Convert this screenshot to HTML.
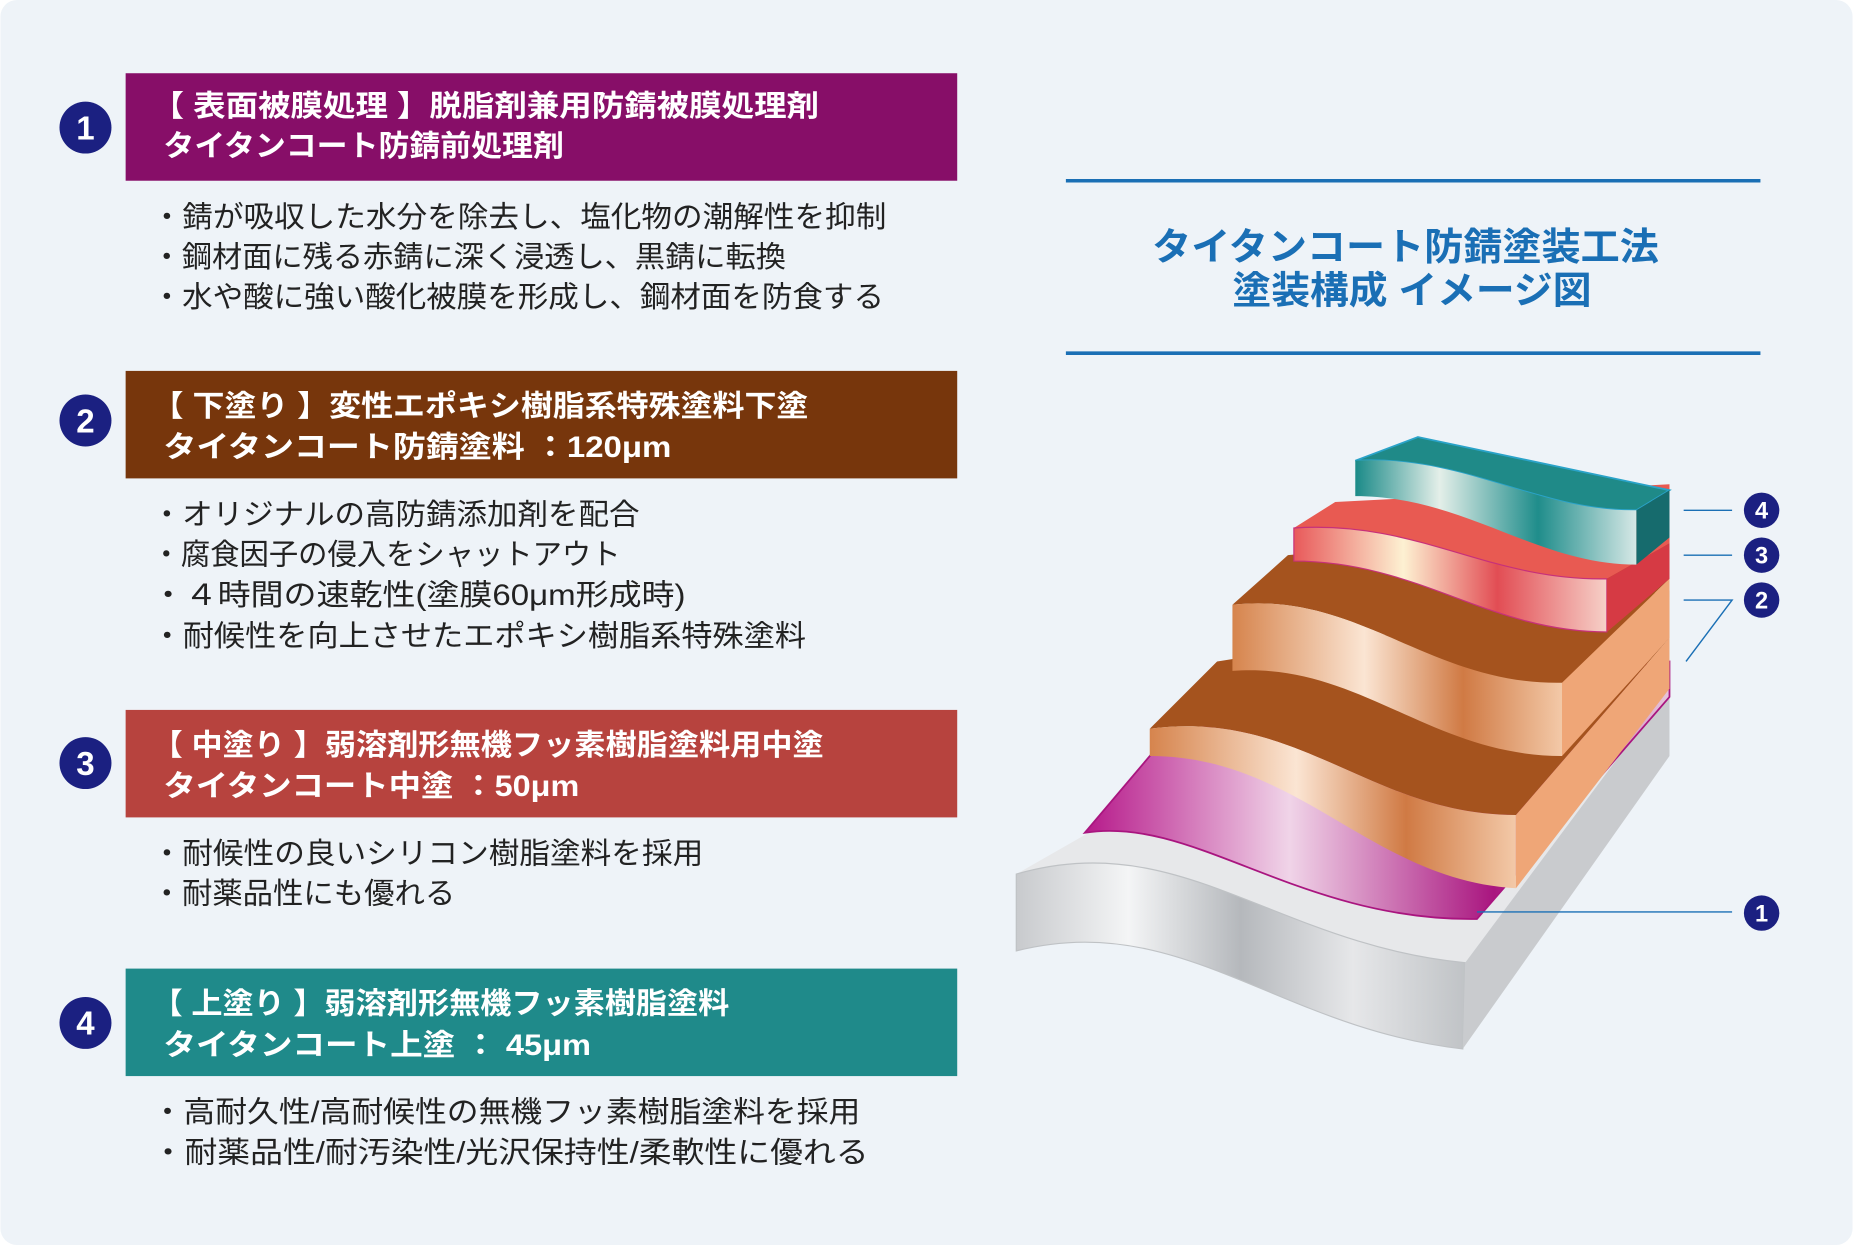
<!DOCTYPE html>
<html><head><meta charset="utf-8">
<style>
html,body{margin:0;padding:0;background:#fff;}
svg{display:block;}
text{font-family:"Liberation Sans","Noto Sans CJK JP",sans-serif;}
</style></head>
<body>
<svg width="1853" height="1245" viewBox="0 0 1568 1054" xmlns="http://www.w3.org/2000/svg">
<defs>
<linearGradient id="gGray" x1="0" x2="1" y1="0" y2="0">
<stop offset="0" stop-color="#c8cacd"/><stop offset="0.25" stop-color="#f4f5f6"/><stop offset="0.5" stop-color="#b5b8bc"/><stop offset="0.75" stop-color="#e6e7e9"/><stop offset="1" stop-color="#c0c3c6"/></linearGradient>
<linearGradient id="gMag" x1="0" x2="1"><stop offset="0" stop-color="#b6198a"/><stop offset="0.35" stop-color="#f0d4e8"/><stop offset="0.7" stop-color="#a9157f"/><stop offset="1" stop-color="#e6c6dc"/></linearGradient>
<linearGradient id="gOr" x1="0" x2="1"><stop offset="0" stop-color="#d6844d"/><stop offset="0.4" stop-color="#fbe5d3"/><stop offset="0.7" stop-color="#d07a44"/><stop offset="1" stop-color="#f3c9a8"/></linearGradient>
<linearGradient id="gRed" x1="0" x2="1"><stop offset="0" stop-color="#e8595a"/><stop offset="0.35" stop-color="#fdf1d2"/><stop offset="0.65" stop-color="#e24d54"/><stop offset="1" stop-color="#f6d0c8"/></linearGradient>
<linearGradient id="gTeal" x1="0" x2="1"><stop offset="0" stop-color="#1a8a88"/><stop offset="0.3" stop-color="#e4efe9"/><stop offset="0.65" stop-color="#1f8d8b"/><stop offset="1" stop-color="#d6e8e6"/></linearGradient>
</defs>
<rect x="0" y="0" width="1568" height="1054" rx="14" fill="#eef3f8"/>

<g font-weight="bold" fill="#fff" font-size="25">
<rect x="106" y="62" width="704" height="91" fill="#870e68"/>
<text x="128" y="98" textLength="565" lengthAdjust="spacingAndGlyphs">【 表面被膜処理 】脱脂剤兼用防錆被膜処理剤</text>
<text x="138" y="132" textLength="339" lengthAdjust="spacingAndGlyphs">タイタンコート防錆前処理剤</text>
<rect x="106" y="314" width="704" height="91" fill="#77360c"/>
<text x="128" y="352" textLength="556" lengthAdjust="spacingAndGlyphs">【 下塗り 】変性エポキシ樹脂系特殊塗料下塗</text>
<text x="138" y="387" textLength="430" lengthAdjust="spacingAndGlyphs">タイタンコート防錆塗料 ：120μm</text>
<rect x="106" y="601" width="704" height="91" fill="#b7433e"/>
<text x="128" y="639" textLength="569" lengthAdjust="spacingAndGlyphs">【 中塗り 】弱溶剤形無機フッ素樹脂塗料用中塗</text>
<text x="138" y="674" textLength="352" lengthAdjust="spacingAndGlyphs">タイタンコート中塗 ：50μm</text>
<rect x="106" y="820" width="704" height="91" fill="#1f8a8a"/>
<text x="128" y="858" textLength="489" lengthAdjust="spacingAndGlyphs">【 上塗り 】弱溶剤形無機フッ素樹脂塗料</text>
<text x="138" y="893" textLength="362" lengthAdjust="spacingAndGlyphs">タイタンコート上塗 ： 45μm</text>
</g>
<g fill="#1b2081">
<circle cx="72" cy="108" r="22"/><circle cx="72" cy="356" r="22"/><circle cx="72" cy="646" r="22"/><circle cx="72" cy="866" r="22"/>
</g>
<g fill="#fff" font-weight="bold" font-size="28" text-anchor="middle">
<text x="72" y="118">1</text><text x="72" y="366">2</text><text x="72" y="656">3</text><text x="72" y="876">4</text>
</g>
<g fill="#222" font-size="25">
<text x="128" y="192" textLength="622" lengthAdjust="spacingAndGlyphs">・錆が吸収した水分を除去し、塩化物の潮解性を抑制</text>
<text x="128" y="226" textLength="537" lengthAdjust="spacingAndGlyphs">・鋼材面に残る赤錆に深く浸透し、黒錆に転換</text>
<text x="128" y="260" textLength="620" lengthAdjust="spacingAndGlyphs">・水や酸に強い酸化被膜を形成し、鋼材面を防食する</text>
<text x="128" y="444" textLength="413" lengthAdjust="spacingAndGlyphs">・オリジナルの高防錆添加剤を配合</text>
<text x="128" y="478" textLength="397" lengthAdjust="spacingAndGlyphs">・腐食因子の侵入をシャットアウト</text>
<text x="128" y="512" textLength="452" lengthAdjust="spacingAndGlyphs">・４時間の速乾性(塗膜60μm形成時)</text>
<text x="128" y="547" textLength="554" lengthAdjust="spacingAndGlyphs">・耐候性を向上させたエポキシ樹脂系特殊塗料</text>
<text x="128" y="731" textLength="467" lengthAdjust="spacingAndGlyphs">・耐候性の良いシリコン樹脂塗料を採用</text>
<text x="128" y="765" textLength="257" lengthAdjust="spacingAndGlyphs">・耐薬品性にも優れる</text>
<text x="128" y="950" textLength="600" lengthAdjust="spacingAndGlyphs">・高耐久性/高耐候性の無機フッ素樹脂塗料を採用</text>
<text x="128" y="984" textLength="607" lengthAdjust="spacingAndGlyphs">・耐薬品性/耐汚染性/光沢保持性/柔軟性に優れる</text>
</g>

<line x1="902" y1="153" x2="1490" y2="153" stroke="#1a6fb5" stroke-width="3"/>
<line x1="902" y1="299" x2="1490" y2="299" stroke="#1a6fb5" stroke-width="3"/>
<g fill="#1a6fb5" font-weight="bold" font-size="32">
<text x="975" y="220" textLength="429" lengthAdjust="spacingAndGlyphs">タイタンコート防錆塗装工法</text>
<text x="1043" y="257" textLength="304" lengthAdjust="spacingAndGlyphs">塗装構成 イメージ図</text>
</g>

<path d="M860,740 L1000,660 L1413,583 L1240,815 C1080,800 1000,700 860,740Z" fill="#e7e8ea"/>
<path d="M860,740 C1000,700 1080,800 1240,815 L1238,888 C1080,870 1000,770 860,805Z" fill="url(#gGray)" stroke="#bfc2c5"/>
<path d="M1240,815 L1413,583 L1413,640 L1238,888Z" fill="#c9cbce"/>
<path d="M918,705 C1010,690 1100,780 1250,778 L1413,590 L1413,560 L990,620Z" fill="url(#gMag)" stroke="#a9157f" stroke-width="1.5"/>
<path d="M973,617 L1030,560 L1413,500 L1413,540 L1283,690 C1160,690 1100,600 973,617Z" fill="#a5531e"/>
<path d="M973,617 C1100,600 1160,690 1283,690 L1283,752 C1160,745 1100,640 973,640Z" fill="url(#gOr)"/>
<path d="M1283,690 L1413,540 L1413,583 L1283,752Z" fill="#efa677"/>
<path d="M1043,512 L1090,470 L1413,440 L1413,490 L1322,578 C1210,580 1150,500 1043,512Z" fill="#a5531e"/>
<path d="M1043,512 C1150,500 1210,580 1322,578 L1322,640 C1210,640 1150,560 1043,568Z" fill="url(#gOr)"/>
<path d="M1322,578 L1413,490 L1413,540 L1322,640Z" fill="#efa677"/>
<path d="M1095,447 L1130,425 L1413,410 L1413,460 L1360,490 C1260,492 1200,440 1095,447Z" fill="#e85a52"/>
<path d="M1095,447 C1200,440 1260,492 1360,490 L1360,535 C1260,535 1200,475 1095,475Z" fill="url(#gRed)" stroke="#c7307a" stroke-width="1"/>
<path d="M1360,490 L1413,460 L1413,490 L1360,535Z" fill="#d63a44"/>
<path d="M1147,390 L1200,370 L1413,415 L1385,432 C1300,433 1240,385 1147,390Z" fill="#1f8a88" stroke="#2aa3c9" stroke-width="1.5"/>
<path d="M1147,390 C1240,385 1300,433 1385,432 L1385,478 C1300,478 1240,420 1147,420Z" fill="url(#gTeal)"/>
<path d="M1385,432 L1413,415 L1413,455 L1385,478Z" fill="#166b6d"/>

<g stroke="#1a6fb5" stroke-width="1.2" fill="none">
<line x1="1425" y1="432" x2="1466" y2="432"/>
<line x1="1425" y1="470" x2="1466" y2="470"/>
<polyline points="1425,508 1466,508 1427,560"/>
<line x1="1250" y1="772" x2="1466" y2="772"/>
</g>
<g fill="#1b2081">
<circle cx="1491" cy="432" r="15"/><circle cx="1491" cy="470" r="15"/><circle cx="1491" cy="508" r="15"/><circle cx="1491" cy="773" r="15"/>
</g>
<g fill="#fff" font-weight="bold" font-size="20" text-anchor="middle">
<text x="1491" y="439">4</text><text x="1491" y="477">3</text><text x="1491" y="515">2</text><text x="1491" y="780">1</text>
</g>
</svg>
</body></html>
